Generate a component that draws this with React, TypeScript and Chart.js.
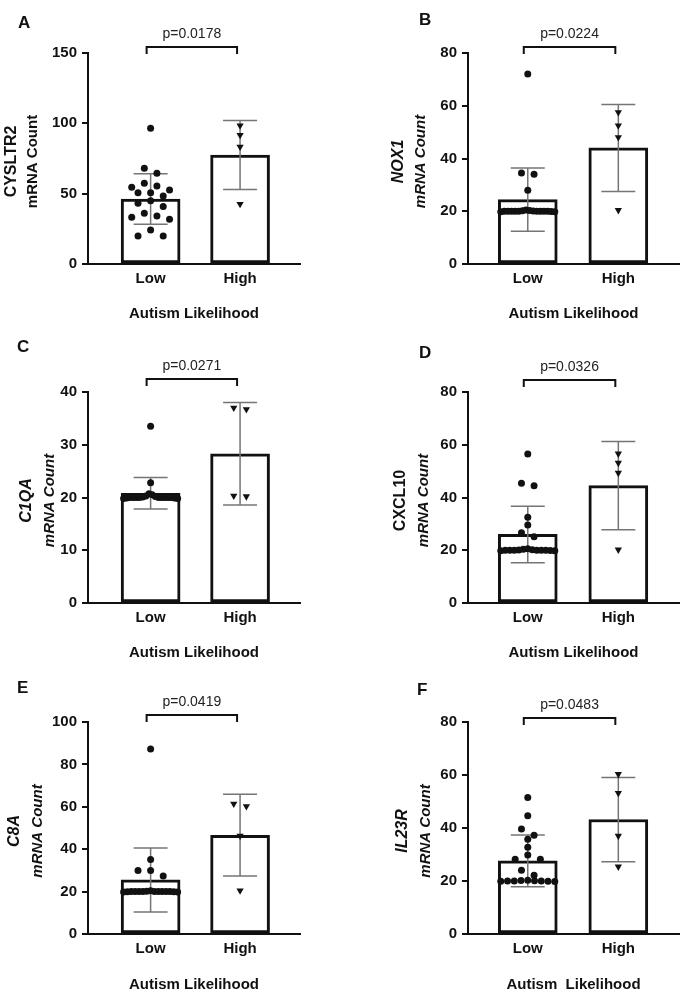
import React, { useEffect, useRef } from 'react';
import { Chart, registerables } from 'chart.js';

Chart.register(...registerables);

const FONT = '"Liberation Sans", Arial, Helvetica, sans-serif';

// ---------------- data ----------------
const CATEGORIES = ['Low', 'High'];
const PANEL_LETTERS = ['A', 'B', 'C', 'D', 'E', 'F'];
const GENES = ['CYSLTR2', 'NOX1', 'C1QA', 'CXCL10', 'C8A', 'IL23R'];
const GENE_ITALIC = [false, true, true, false, true, true];
const COUNT_ITALIC = [false, true, true, true, true, true];
const X_TITLES = [
  'Autism Likelihood',
  'Autism Likelihood',
  'Autism Likelihood',
  'Autism Likelihood',
  'Autism Likelihood',
  'Autism  Likelihood',
];
const P_LABELS = ['p=0.0178', 'p=0.0224', 'p=0.0271', 'p=0.0326', 'p=0.0419', 'p=0.0483'];
const Y_MAX = [150, 80, 40, 80, 100, 80];
const Y_STEP = [50, 20, 10, 20, 20, 20];

const CYSLTR2_LOW = [96.5, 68.0, 64.5, 57.4, 55.5, 54.5, 52.6, 50.7, 50.7, 48.3, 45.0, 43.1, 40.8, 36.0, 34.1, 33.2, 31.8, 24.2, 19.9, 19.9];
const CYSLTR2_HIGH = [98.4, 91.6, 83.3, 42.6];
const NOX1_LOW = [72.0, 34.5, 34.0, 28.0, 20.5, 20.3, 20.2, 20.1, 20.0, 20.0, 20.0, 20.0, 20.0, 20.0, 20.0, 20.0, 20.0, 19.9, 19.8, 19.8];
const NOX1_HIGH = [57.5, 52.5, 48.0, 20.4];
const C1QA_LOW = [33.5, 22.8, 20.7, 20.5, 20.3, 20.2, 20.1, 20.0, 20.0, 20.0, 20.0, 20.0, 20.0, 20.0, 20.0, 20.0, 19.9, 19.9, 19.8, 19.8];
const C1QA_HIGH = [37.0, 36.7, 20.3, 20.2];
const CXCL10_LOW = [56.5, 45.4, 44.5, 32.5, 29.6, 26.6, 25.1, 20.6, 20.4, 20.2, 20.1, 20.0, 20.0, 20.0, 20.0, 20.0, 20.0, 19.9, 19.8, 19.8];
const CXCL10_HIGH = [56.6, 53.1, 49.3, 20.2];
const C8A_LOW = [87.3, 35.2, 30.0, 30.0, 27.4, 20.4, 20.2, 20.1, 20.0, 20.0, 20.0, 20.0, 20.0, 20.0, 20.0, 20.0, 19.9, 19.9, 19.8, 19.8];
const C8A_HIGH = [61.4, 60.2, 46.3, 20.5];
const IL23R_LOW = [51.5, 44.6, 39.6, 37.3, 35.8, 32.7, 29.8, 28.2, 28.2, 24.1, 22.2, 20.3, 20.2, 20.1, 20.0, 20.0, 20.0, 19.9, 19.9, 19.8];
const IL23R_HIGH = [60.3, 53.2, 37.0, 25.4];

const LOW_POINTS = [CYSLTR2_LOW, NOX1_LOW, C1QA_LOW, CXCL10_LOW, C8A_LOW, IL23R_LOW];
const HIGH_POINTS = [CYSLTR2_HIGH, NOX1_HIGH, C1QA_HIGH, CXCL10_HIGH, C8A_HIGH, IL23R_HIGH];

const LOW_MEAN = [46.2, 24.4, 20.8, 26.0, 25.5, 27.6];
const LOW_SD = [18.0, 12.0, 3.0, 10.7, 15.1, 9.8];
const HIGH_MEAN = [77.5, 44.0, 28.3, 44.5, 46.6, 43.2];
const HIGH_SD = [24.6, 16.5, 9.7, 16.7, 19.3, 15.9];

// ---------------- layout ----------------
const CANVAS_W = 344;
const COL_LEFT = [0, 344];
const AXIS_LEFT = [88, 124];
const AXIS_RIGHT = [300, 335];
const X_RANGE = [
  [-0.7, 1.67],
  [-0.66, 1.67],
];
const ROW_TOP = [0, 330, 660];
const ROW_H = [330, 333, 340];
const PLOT_TOP = [53, 62, 62];
const PLOT_BOTTOM = [264, 273, 274];
const XTITLE_PAD = [7, 1, 6];
const LETTER_POS = [
  [18, 23],
  [75, 20],
  [17, 17],
  [75, 23],
  [17, 28],
  [73, 30],
];
const BRACKET_Y = [47, 47, 49, 50, 55, 58];
const YTITLE_X = [
  [12, 33],
  [55, 77],
  [27, 50],
  [57, 80],
  [15, 38],
  [59, 82],
];

const BAR_PX = 59;
const CAP_PX = 34;
const ROW_PX = 7;
const DOT_SPACING_PX = 12.6;
const MAX_ROW_PX = 54;

// deterministic row-based spreading of points (Prism-like scatter)
function spread(values: number[], pxPerUnitY: number, pxPerUnitX: number): number[] {
  const order = values.map((_, i) => i).sort((a, b) => values[b] - values[a]);
  const rows: number[][] = [];
  for (const i of order) {
    const r = rows[rows.length - 1];
    if (r && (values[r[0]] - values[i]) * pxPerUnitY <= ROW_PX) r.push(i);
    else rows.push([i]);
  }
  const offs = new Array(values.length).fill(0);
  for (const r of rows) {
    const n = r.length;
    const sp = n > 1 ? Math.min(DOT_SPACING_PX, MAX_ROW_PX / (n - 1)) : 0;
    // slots ordered centre-out so the row stays level
    const slots = Array.from({ length: n }, (_, k) => k - (n - 1) / 2).sort(
      (a, b) => Math.abs(a) - Math.abs(b) || a - b
    );
    r.forEach((idx, k) => {
      offs[idx] = (slots[k] * sp) / pxPerUnitX;
    });
  }
  return offs;
}

function makeDeco(i: number) {
  return {
    id: 'deco' + i,
    afterDatasetDraw(chart: any, args: any) {
      if (args.index !== 0) return;
      const { ctx } = chart;
      const xs = chart.scales.x;
      const ys = chart.scales.y;
      const means = [LOW_MEAN[i], HIGH_MEAN[i]];
      const sds = [LOW_SD[i], HIGH_SD[i]];
      ctx.save();
      ctx.strokeStyle = '#757575';
      ctx.lineWidth = 1.5;
      means.forEach((m, k) => {
        const px = xs.getPixelForValue(k);
        const top = ys.getPixelForValue(m + sds[k]);
        const bot = ys.getPixelForValue(m - sds[k]);
        ctx.beginPath();
        ctx.moveTo(px, top);
        ctx.lineTo(px, bot);
        ctx.moveTo(px - CAP_PX / 2, top);
        ctx.lineTo(px + CAP_PX / 2, top);
        ctx.moveTo(px - CAP_PX / 2, bot);
        ctx.lineTo(px + CAP_PX / 2, bot);
        ctx.stroke();
      });
      ctx.restore();
    },
    afterDraw(chart: any) {
      const { ctx, chartArea } = chart;
      const xs = chart.scales.x;
      ctx.save();
      // significance bracket
      const x0 = xs.getPixelForValue(0) - 4;
      const x1 = xs.getPixelForValue(1) - 3;
      const by = BRACKET_Y[i];
      ctx.strokeStyle = '#111';
      ctx.lineWidth = 2;
      ctx.beginPath();
      ctx.moveTo(x0, by + 7);
      ctx.lineTo(x0, by);
      ctx.lineTo(x1, by);
      ctx.lineTo(x1, by + 7);
      ctx.stroke();
      ctx.fillStyle = '#222';
      ctx.font = `14px ${FONT}`;
      ctx.textAlign = 'center';
      ctx.textBaseline = 'middle';
      ctx.fillText(P_LABELS[i], (x0 + x1) / 2, by - 12.5);
      // panel letter
      ctx.fillStyle = '#111';
      ctx.font = `bold 17px ${FONT}`;
      ctx.textAlign = 'left';
      ctx.fillText(PANEL_LETTERS[i], LETTER_POS[i][0], LETTER_POS[i][1]);
      // y-axis titles (two lines with different styles)
      const cy = (chartArea.top + chartArea.bottom) / 2 + 3;
      const lines = [
        { text: GENES[i], italic: GENE_ITALIC[i], size: 16, x: YTITLE_X[i][0] },
        { text: 'mRNA Count', italic: COUNT_ITALIC[i], size: 15, x: YTITLE_X[i][1] },
      ];
      lines.forEach((l) => {
        ctx.save();
        ctx.translate(l.x, cy);
        ctx.rotate(-Math.PI / 2);
        ctx.font = `${l.italic ? 'italic ' : ''}bold ${l.size}px ${FONT}`;
        ctx.textAlign = 'center';
        ctx.textBaseline = 'middle';
        ctx.fillStyle = '#111';
        ctx.fillText(l.text, 0, 0);
        ctx.restore();
      });
      ctx.restore();
    },
  };
}

function Panel({ i }: { i: number }) {
  const ref = useRef<HTMLCanvasElement>(null);
  const row = Math.floor(i / 2);
  const col = i % 2;
  const H = ROW_H[row];

  useEffect(() => {
    const [xMin, xMax] = X_RANGE[col];
    const plotW = AXIS_RIGHT[col] - AXIS_LEFT[col];
    const plotH = PLOT_BOTTOM[row] - PLOT_TOP[row];
    const pxX = plotW / (xMax - xMin);
    const pxY = plotH / Y_MAX[i];
    const lowOff = spread(LOW_POINTS[i], pxY, pxX);
    const highOff = spread(HIGH_POINTS[i], pxY, pxX);

    const tickFont = { family: FONT, size: 15, weight: 'bold' as const };

    const chart = new Chart(ref.current as HTMLCanvasElement, {
      type: 'scatter',
      data: {
        datasets: [
          {
            type: 'bar',
            data: [
              { x: 0, y: LOW_MEAN[i] },
              { x: 1, y: HIGH_MEAN[i] },
            ],
            backgroundColor: '#ffffff',
            borderColor: '#111111',
            borderWidth: 3,
            borderSkipped: false,
            barThickness: BAR_PX,
            grouped: false,
            order: 3,
          } as any,
          {
            type: 'scatter',
            data: LOW_POINTS[i].map((v, k) => ({ x: lowOff[k], y: v })),
            pointStyle: 'circle',
            pointRadius: 3.5,
            pointBackgroundColor: '#111',
            pointBorderWidth: 0,
            order: 1,
            clip: false,
          } as any,
          {
            type: 'scatter',
            data: HIGH_POINTS[i].map((v, k) => ({ x: 1 + highOff[k], y: v })),
            pointStyle: 'triangle',
            pointRotation: 180,
            pointRadius: 4.2,
            pointBackgroundColor: '#111',
            pointBorderWidth: 0,
            order: 1,
            clip: false,
          } as any,
        ],
      },
      options: {
        animation: false,
        responsive: false,
        devicePixelRatio: 1,
        events: [],
        layout: {
          padding: {
            top: PLOT_TOP[row],
            right: CANVAS_W - AXIS_RIGHT[col],
            left: 0,
            bottom: 0,
          },
        },
        plugins: {
          legend: { display: false },
          tooltip: { enabled: false },
        },
        scales: {
          x: {
            type: 'linear',
            min: xMin,
            max: xMax,
            offset: false,
            afterBuildTicks: (s: any) => {
              s.ticks = CATEGORIES.map((_, k) => ({ value: k }));
            },
            afterFit: (s: any) => {
              s.height = H - PLOT_BOTTOM[row];
            },
            grid: { display: false, drawTicks: false },
            border: { display: true, color: '#111', width: 2 },
            ticks: {
              autoSkip: false,
              maxRotation: 0,
              padding: 6,
              color: '#111',
              font: tickFont,
              callback: (v: any) => CATEGORIES[v] ?? '',
            },
            title: {
              display: true,
              text: X_TITLES[i],
              color: '#111',
              font: { family: FONT, size: 15, weight: 'bold' },
              padding: { top: 0, bottom: XTITLE_PAD[row] },
            },
          },
          y: {
            type: 'linear',
            min: 0,
            max: Y_MAX[i],
            afterFit: (s: any) => {
              s.width = AXIS_LEFT[col];
            },
            grid: {
              drawOnChartArea: false,
              drawTicks: true,
              tickLength: 6,
              color: '#111',
              lineWidth: 2,
            },
            border: { display: true, color: '#111', width: 2 },
            ticks: {
              stepSize: Y_STEP[i],
              padding: 5,
              color: '#111',
              font: tickFont,
            },
          },
        },
      } as any,
      plugins: [makeDeco(i)],
    });
    return () => chart.destroy();
  }, [i]);

  return (
    <canvas
      ref={ref}
      width={CANVAS_W}
      height={H}
      style={{
        position: 'absolute',
        left: COL_LEFT[col],
        top: ROW_TOP[row],
        width: CANVAS_W,
        height: H,
      }}
    />
  );
}

export default function App() {
  return (
    <div
      style={{
        position: 'absolute',
        left: 0,
        top: 0,
        width: 688,
        height: 1000,
        background: '#ffffff',
        overflow: 'hidden',
      }}
    >
      {PANEL_LETTERS.map((_, i) => (
        <Panel key={i} i={i} />
      ))}
    </div>
  );
}
